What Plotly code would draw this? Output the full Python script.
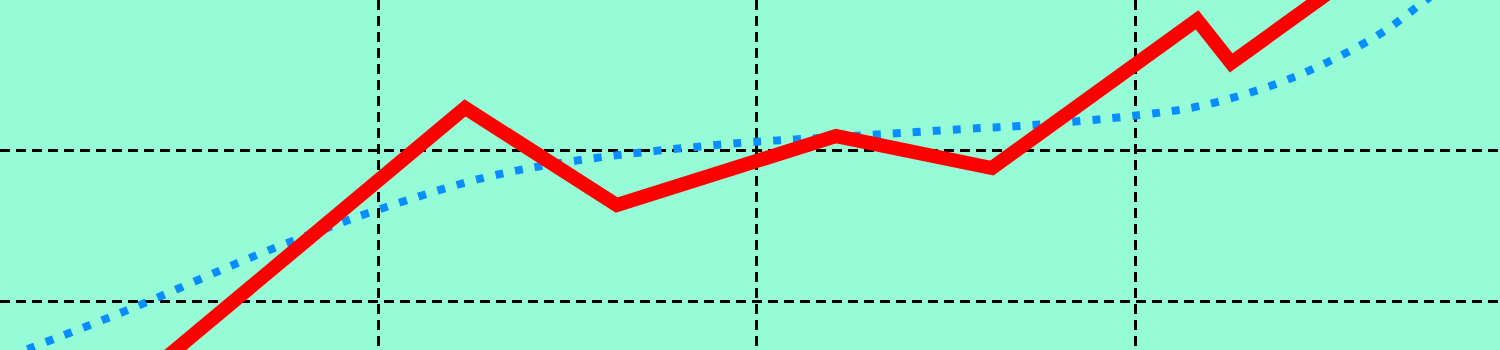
import plotly.graph_objects as go

# Red series (solid, thick)
red_x = [0.398, 1.230, 1.631, 2.210, 2.622, 3.164, 3.254, 3.752]
red_y = [0.543, 2.285, 1.642, 2.099, 1.887, 2.868, 2.583, 3.483]

# Blue series (smooth, dotted)
blue_x = [-0.025, 0.089, 0.337, 0.680, 0.873, 0.974, 1.277, 1.534, 1.956, 2.168,
          2.379, 2.590, 2.696, 3.013, 3.172, 3.365, 3.515, 3.655, 3.745, 3.819]
blue_y = [0.589, 0.702, 0.945, 1.311, 1.497, 1.589, 1.821, 1.940, 2.053, 2.086,
          2.119, 2.152, 2.166, 2.238, 2.298, 2.437, 2.596, 2.788, 2.954, 3.099]

# Grid positions
x_ticks = [1, 2, 3]
y_ticks = [1, 2]

fig = go.Figure()
fig.add_trace(go.Scatter(
    x=blue_x, y=blue_y, mode="lines",
    line=dict(color="#0A8EFF", width=8, dash="8px,12px", shape="spline", smoothing=1.0),
    showlegend=False, hoverinfo="skip",
))
fig.add_trace(go.Scatter(
    x=red_x, y=red_y, mode="lines",
    line=dict(color="#FF0000", width=14),
    showlegend=False, hoverinfo="skip",
))

fig.update_layout(
    width=1500, height=350,
    margin=dict(l=0, r=0, t=0, b=0, pad=0),
    paper_bgcolor="#96FCD8",
    plot_bgcolor="#96FCD8",
    showlegend=False,
)
fig.update_xaxes(
    range=[0.0013, 3.9643], tickvals=x_ticks, showticklabels=False,
    showgrid=True, gridcolor="black", gridwidth=2.5, griddash="10px,6px",
    zeroline=False, showline=False, ticks="",
)
fig.update_yaxes(
    range=[0.682, 3.0], tickvals=y_ticks, showticklabels=False,
    showgrid=True, gridcolor="black", gridwidth=2.5, griddash="10px,6px",
    zeroline=False, showline=False, ticks="",
)

fig.write_html("out.html")
